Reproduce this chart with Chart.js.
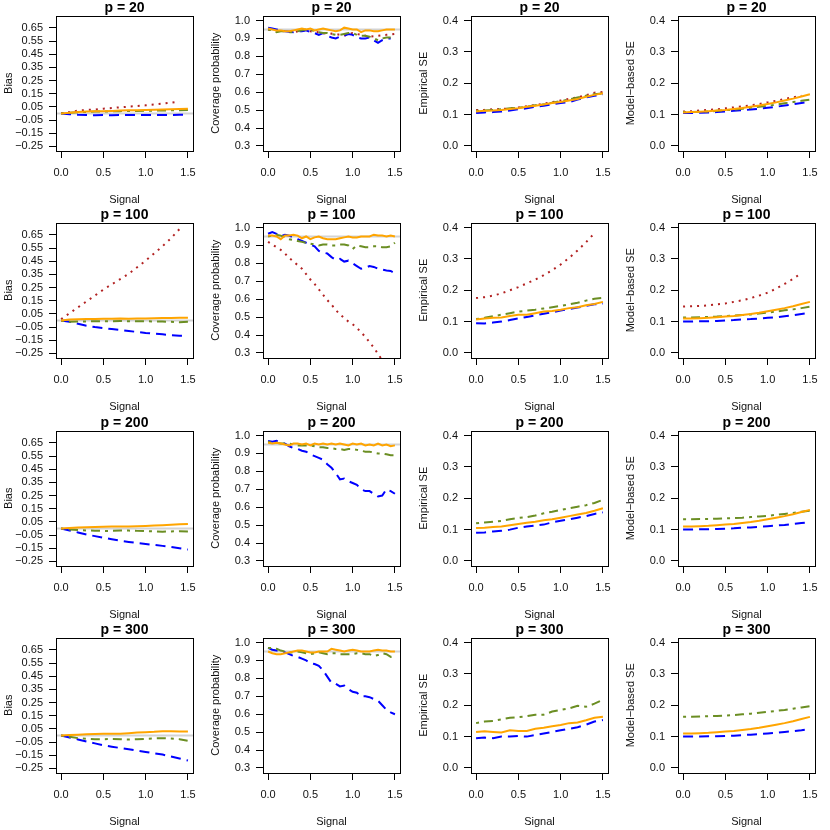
<!DOCTYPE html>
<html>
<head>
<meta charset="utf-8">
<script src="https://cdn.jsdelivr.net/npm/chart.js@4.4.1/dist/chart.umd.min.js"></script>
<style>
  body { margin: 0; background: #fff; }
  #wrap { position: relative; width: 830px; height: 830px; }
  #wrap canvas { position: absolute; }
</style>
</head>
<body>
<div id="wrap"></div>
<script>
// x grids
const signal = [0, 0.1, 0.2, 0.3, 0.4, 0.5, 0.6, 0.7, 0.8, 0.9, 1.0, 1.1, 1.2, 1.3, 1.4, 1.5];
const signalFine = [0, 0.05, 0.1, 0.15, 0.2, 0.25, 0.3, 0.35, 0.4, 0.45, 0.5, 0.55, 0.6, 0.65, 0.7, 0.75,
  0.8, 0.85, 0.9, 0.95, 1.0, 1.05, 1.1, 1.15, 1.2, 1.25, 1.3, 1.35, 1.4, 1.45, 1.5];

// tick labels
const signalTicks = [0, 0.5, 1, 1.5];
const signalTickLabels = ['0.0', '0.5', '1.0', '1.5'];
const biasTicks = [-0.25, -0.15, -0.05, 0.05, 0.15, 0.25, 0.35, 0.45, 0.55, 0.65];
const biasTickLabels = ['\u22120.25', '\u22120.15', '\u22120.05', '0.05', '0.15', '0.25', '0.35', '0.45', '0.55', '0.65'];
const coverTicks = [0.3, 0.4, 0.5, 0.6, 0.7, 0.8, 0.9, 1.0];
const coverTickLabels = ['0.3', '0.4', '0.5', '0.6', '0.7', '0.8', '0.9', '1.0'];
const seTicks = [0, 0.1, 0.2, 0.3, 0.4];
const seTickLabels = ['0.0', '0.1', '0.2', '0.3', '0.4'];

// Bias (grid: signal)
const bias20_red    = [0.003, 0.01, 0.022, 0.027, 0.03, 0.037, 0.042, 0.047, 0.052, 0.057, 0.062, 0.068, 0.075, 0.082, 0.092, null];
const bias20_blue   = [0, -0.005, -0.01, -0.012, -0.013, -0.012, -0.013, -0.012, -0.012, -0.011, -0.011, -0.012, -0.011, -0.011, -0.01, -0.01];
const bias20_green  = [0, 0.005, 0.01, 0.012, 0.015, 0.015, 0.017, 0.018, 0.02, 0.02, 0.021, 0.022, 0.023, 0.024, 0.025, 0.027];
const bias20_orange = [0, 0.005, 0.012, 0.015, 0.017, 0.018, 0.02, 0.022, 0.024, 0.025, 0.027, 0.029, 0.03, 0.032, 0.034, 0.036];

const bias100_red    = [0.01, 0.055, 0.1, 0.145, 0.19, 0.235, 0.275, 0.315, 0.355, 0.405, 0.455, 0.51, 0.565, 0.625, 0.695, null];
const bias100_blue   = [0, -0.01, -0.025, -0.04, -0.05, -0.058, -0.065, -0.072, -0.08, -0.087, -0.095, -0.1, -0.105, -0.112, -0.115, -0.115];
const bias100_green  = [0, -0.01, -0.008, -0.007, -0.006, -0.005, -0.005, -0.004, -0.005, -0.006, -0.006, -0.007, -0.008, -0.01, -0.014, -0.01];
const bias100_orange = [0, 0.008, 0.01, 0.011, 0.012, 0.013, 0.013, 0.015, 0.014, 0.016, 0.016, 0.018, 0.019, 0.02, 0.021, 0.021];

const bias200_blue   = [0, -0.015, -0.03, -0.045, -0.058, -0.07, -0.082, -0.093, -0.102, -0.11, -0.117, -0.125, -0.132, -0.14, -0.15, -0.16];
const bias200_green  = [0, -0.008, -0.012, -0.015, -0.017, -0.018, -0.018, -0.016, -0.016, -0.018, -0.02, -0.022, -0.024, -0.022, -0.02, -0.022];
const bias200_orange = [0, 0.004, 0.008, 0.01, 0.012, 0.014, 0.015, 0.016, 0.015, 0.017, 0.02, 0.022, 0.025, 0.028, 0.032, 0.034];

const bias300_blue   = [0, -0.015, -0.03, -0.045, -0.06, -0.075, -0.085, -0.095, -0.105, -0.115, -0.125, -0.135, -0.145, -0.16, -0.175, -0.19];
const bias300_green  = [0, -0.01, -0.02, -0.025, -0.028, -0.028, -0.027, -0.028, -0.03, -0.028, -0.025, -0.022, -0.02, -0.022, -0.028, -0.04];
const bias300_orange = [0, 0.003, 0.006, 0.009, 0.011, 0.013, 0.014, 0.013, 0.018, 0.022, 0.025, 0.028, 0.033, 0.033, 0.03, 0.03];

// Coverage probability (grid: signalFine)
const cover20_red    = [0.95, 0.948, 0.945, 0.942, 0.94, 0.937, 0.935, 0.94, 0.945, 0.943, 0.94, 0.937, 0.935, 0.93, 0.925, 0.927, 0.925, 0.92, 0.915, 0.925, 0.93, 0.925, 0.92, 0.915, 0.91, 0.912, 0.915, 0.918, 0.92, 0.922, 0.925];
const cover20_blue   = [0.96, 0.955, 0.95, 0.945, 0.94, 0.938, 0.935, 0.94, 0.94, 0.945, 0.935, 0.93, 0.92, 0.93, 0.915, 0.905, 0.9, 0.91, 0.915, 0.925, 0.92, 0.905, 0.9, 0.9, 0.905, 0.89, 0.875, 0.89, 0.9, 0.9, null];
const cover20_green  = [0.95, 0.945, 0.935, 0.94, 0.94, 0.935, 0.935, 0.94, 0.945, 0.95, 0.95, 0.94, 0.935, 0.93, 0.93, 0.925, 0.92, 0.92, 0.925, 0.93, 0.93, 0.92, 0.915, 0.915, 0.91, 0.9, 0.89, 0.9, 0.905, 0.905, null];
const cover20_orange = [0.955, 0.95, 0.945, 0.945, 0.94, 0.94, 0.945, 0.95, 0.955, 0.95, 0.955, 0.945, 0.95, 0.955, 0.95, 0.945, 0.94, 0.945, 0.96, 0.955, 0.95, 0.95, 0.935, 0.945, 0.945, 0.94, 0.94, 0.945, 0.95, 0.95, 0.95];

const cover100_red    = [0.92, 0.905, 0.89, 0.875, 0.855, 0.83, 0.81, 0.79, 0.77, 0.74, 0.71, 0.685, 0.655, 0.625, 0.595, 0.57, 0.54, 0.515, 0.495, 0.475, 0.46, 0.44, 0.415, 0.39, 0.36, 0.33, 0.295, 0.26, 0.22, null, null];
const cover100_blue   = [0.965, 0.975, 0.965, 0.95, 0.96, 0.955, 0.945, 0.935, 0.925, 0.915, 0.905, 0.895, 0.87, 0.86, 0.855, 0.835, 0.82, 0.825, 0.81, 0.815, 0.8, 0.785, 0.77, 0.775, 0.785, 0.78, 0.77, 0.765, 0.76, 0.758, 0.745];
const cover100_green  = [0.95, 0.955, 0.96, 0.955, 0.945, 0.935, 0.93, 0.925, 0.92, 0.915, 0.91, 0.905, 0.9, 0.905, 0.905, 0.9, 0.9, 0.905, 0.905, 0.9, 0.88, 0.9, 0.895, 0.89, 0.89, 0.895, 0.895, 0.89, 0.89, 0.895, 0.915];
const cover100_orange = [0.955, 0.955, 0.95, 0.935, 0.955, 0.955, 0.96, 0.955, 0.94, 0.95, 0.935, 0.945, 0.95, 0.94, 0.935, 0.935, 0.935, 0.94, 0.945, 0.95, 0.945, 0.945, 0.95, 0.95, 0.95, 0.96, 0.955, 0.955, 0.95, 0.955, 0.95];

const cover200_blue   = [0.97, 0.965, 0.97, 0.96, 0.955, 0.94, 0.93, 0.925, 0.915, 0.91, 0.895, 0.885, 0.875, 0.865, 0.84, 0.82, 0.79, 0.755, 0.76, 0.745, 0.735, 0.725, 0.7, 0.69, 0.69, 0.675, 0.66, 0.665, 0.7, 0.69, 0.675];
const cover200_green  = [0.965, 0.96, 0.96, 0.955, 0.955, 0.955, 0.95, 0.945, 0.945, 0.945, 0.945, 0.94, 0.935, 0.935, 0.93, 0.93, 0.925, 0.925, 0.92, 0.925, 0.925, 0.92, 0.915, 0.91, 0.91, 0.905, 0.9, 0.9, 0.895, 0.89, 0.89];
const cover200_orange = [0.96, 0.955, 0.96, 0.955, 0.95, 0.945, 0.955, 0.955, 0.95, 0.955, 0.945, 0.955, 0.95, 0.955, 0.95, 0.955, 0.95, 0.955, 0.95, 0.945, 0.955, 0.95, 0.955, 0.945, 0.95, 0.945, 0.955, 0.945, 0.95, 0.94, 0.945];

const cover300_blue   = [0.97, 0.96, 0.955, 0.95, 0.945, 0.935, 0.925, 0.92, 0.91, 0.9, 0.885, 0.88, 0.87, 0.845, 0.81, 0.775, 0.77, 0.755, 0.76, 0.74, 0.725, 0.72, 0.7, 0.7, 0.695, 0.685, 0.675, 0.65, 0.625, 0.61, 0.6];
const cover300_green  = [0.97, 0.97, 0.965, 0.955, 0.95, 0.945, 0.945, 0.95, 0.945, 0.94, 0.935, 0.94, 0.945, 0.94, 0.935, 0.94, 0.94, 0.935, 0.935, 0.935, 0.935, 0.94, 0.94, 0.935, 0.935, 0.925, 0.93, 0.94, 0.935, 0.92, 0.93];
const cover300_orange = [0.95, 0.94, 0.935, 0.935, 0.94, 0.945, 0.95, 0.955, 0.955, 0.95, 0.945, 0.945, 0.95, 0.95, 0.95, 0.965, 0.96, 0.955, 0.95, 0.955, 0.96, 0.955, 0.95, 0.95, 0.95, 0.955, 0.96, 0.955, 0.955, 0.95, 0.95];

// Empirical SE (grid: signal)
const emp20_red    = [0.115, 0.115, 0.117, 0.118, 0.12, 0.123, 0.127, 0.13, 0.135, 0.14, 0.145, 0.15, 0.155, 0.162, 0.17, 0.172];
const emp20_blue   = [0.105, 0.107, 0.108, 0.11, 0.113, 0.117, 0.12, 0.125, 0.128, 0.133, 0.137, 0.14, 0.148, 0.155, 0.16, 0.165];
const emp20_green  = [0.112, 0.113, 0.115, 0.117, 0.12, 0.122, 0.125, 0.13, 0.133, 0.138, 0.143, 0.148, 0.155, 0.16, 0.165, 0.168];
const emp20_orange = [0.11, 0.112, 0.113, 0.115, 0.118, 0.12, 0.125, 0.128, 0.132, 0.137, 0.14, 0.145, 0.15, 0.157, 0.163, 0.168];

const emp100_red    = [0.175, 0.178, 0.183, 0.19, 0.2, 0.21, 0.222, 0.234, 0.248, 0.264, 0.282, 0.303, 0.327, 0.353, 0.382, null];
const emp100_blue   = [0.095, 0.094, 0.097, 0.1, 0.105, 0.11, 0.115, 0.12, 0.125, 0.13, 0.135, 0.14, 0.145, 0.15, 0.155, 0.158];
const emp100_green  = [0.108, 0.112, 0.117, 0.122, 0.127, 0.132, 0.135, 0.138, 0.142, 0.146, 0.15, 0.155, 0.16, 0.167, 0.173, 0.176];
const emp100_orange = [0.107, 0.11, 0.112, 0.113, 0.118, 0.122, 0.122, 0.127, 0.132, 0.134, 0.138, 0.143, 0.146, 0.152, 0.156, 0.163];

const emp200_blue   = [0.09, 0.091, 0.094, 0.096, 0.1, 0.106, 0.11, 0.113, 0.116, 0.123, 0.128, 0.133, 0.138, 0.143, 0.15, 0.155];
const emp200_green  = [0.12, 0.123, 0.125, 0.128, 0.133, 0.137, 0.14, 0.145, 0.152, 0.157, 0.163, 0.168, 0.173, 0.178, 0.185, 0.195];
const emp200_orange = [0.105, 0.106, 0.108, 0.11, 0.114, 0.118, 0.122, 0.125, 0.13, 0.133, 0.138, 0.143, 0.148, 0.153, 0.16, 0.168];

const emp300_blue   = [0.095, 0.097, 0.095, 0.1, 0.1, 0.102, 0.1, 0.105, 0.11, 0.115, 0.12, 0.125, 0.13, 0.138, 0.148, 0.153];
const emp300_green  = [0.143, 0.148, 0.15, 0.155, 0.16, 0.162, 0.165, 0.17, 0.17, 0.18, 0.185, 0.19, 0.198, 0.195, 0.205, 0.218];
const emp300_orange = [0.115, 0.117, 0.115, 0.113, 0.12, 0.118, 0.118, 0.125, 0.128, 0.133, 0.137, 0.143, 0.145, 0.152, 0.16, 0.163];

// Model-based SE (grid: signal)
const mod20_red    = [0.11, 0.111, 0.113, 0.115, 0.117, 0.12, 0.123, 0.126, 0.13, 0.134, 0.139, 0.144, 0.15, 0.155, 0.16, null];
const mod20_blue   = [0.105, 0.105, 0.106, 0.107, 0.108, 0.11, 0.112, 0.114, 0.116, 0.119, 0.122, 0.125, 0.129, 0.133, 0.137, 0.141];
const mod20_green  = [0.108, 0.108, 0.109, 0.11, 0.112, 0.114, 0.116, 0.119, 0.122, 0.125, 0.128, 0.132, 0.136, 0.14, 0.144, 0.148];
const mod20_orange = [0.107, 0.108, 0.109, 0.111, 0.113, 0.115, 0.118, 0.121, 0.125, 0.129, 0.134, 0.139, 0.145, 0.151, 0.158, 0.165];

const mod100_red    = [0.148, 0.149, 0.15, 0.152, 0.155, 0.158, 0.163, 0.168, 0.175, 0.183, 0.192, 0.205, 0.22, 0.236, 0.255, null];
const mod100_blue   = [0.1, 0.1, 0.101, 0.101, 0.102, 0.104, 0.105, 0.107, 0.108, 0.11, 0.112, 0.114, 0.117, 0.12, 0.124, 0.128];
const mod100_green  = [0.113, 0.113, 0.114, 0.115, 0.116, 0.118, 0.119, 0.121, 0.123, 0.126, 0.129, 0.132, 0.136, 0.139, 0.143, 0.148];
const mod100_orange = [0.11, 0.11, 0.111, 0.112, 0.114, 0.116, 0.118, 0.121, 0.124, 0.128, 0.133, 0.138, 0.143, 0.149, 0.156, 0.163];

const mod200_blue   = [0.1, 0.1, 0.101, 0.101, 0.102, 0.103, 0.104, 0.106, 0.107, 0.109, 0.111, 0.113, 0.115, 0.118, 0.121, 0.124];
const mod200_green  = [0.133, 0.133, 0.134, 0.134, 0.135, 0.136, 0.137, 0.138, 0.14, 0.142, 0.144, 0.147, 0.15, 0.153, 0.157, 0.16];
const mod200_orange = [0.11, 0.11, 0.111, 0.112, 0.114, 0.116, 0.118, 0.121, 0.124, 0.128, 0.133, 0.138, 0.143, 0.149, 0.156, 0.163];

const mod300_blue   = [0.1, 0.1, 0.1, 0.101, 0.101, 0.102, 0.103, 0.105, 0.106, 0.108, 0.11, 0.112, 0.115, 0.117, 0.12, 0.124];
const mod300_green  = [0.163, 0.163, 0.164, 0.165, 0.166, 0.167, 0.169, 0.171, 0.173, 0.176, 0.179, 0.182, 0.185, 0.189, 0.193, 0.197];
const mod300_orange = [0.11, 0.11, 0.111, 0.112, 0.114, 0.116, 0.118, 0.121, 0.124, 0.128, 0.133, 0.138, 0.143, 0.149, 0.156, 0.163];

// rows of the grid: series order is orange, green, blue, red (first drawn on top)
const rows = [
  { p: 20,  bias: [bias20_orange, bias20_green, bias20_blue, bias20_red],
            cover: [cover20_orange, cover20_green, cover20_blue, cover20_red],
            emp: [emp20_orange, emp20_green, emp20_blue, emp20_red],
            mod: [mod20_orange, mod20_green, mod20_blue, mod20_red] },
  { p: 100, bias: [bias100_orange, bias100_green, bias100_blue, bias100_red],
            cover: [cover100_orange, cover100_green, cover100_blue, cover100_red],
            emp: [emp100_orange, emp100_green, emp100_blue, emp100_red],
            mod: [mod100_orange, mod100_green, mod100_blue, mod100_red] },
  { p: 200, bias: [bias200_orange, bias200_green, bias200_blue, null],
            cover: [cover200_orange, cover200_green, cover200_blue, null],
            emp: [emp200_orange, emp200_green, emp200_blue, null],
            mod: [mod200_orange, mod200_green, mod200_blue, null] },
  { p: 300, bias: [bias300_orange, bias300_green, bias300_blue, null],
            cover: [cover300_orange, cover300_green, cover300_blue, null],
            emp: [emp300_orange, emp300_green, emp300_blue, null],
            mod: [mod300_orange, mod300_green, mod300_blue, null] }
];

const metrics = [
  { key: 'bias',  title: 'Bias', min: -0.285, max: 0.745, grid: signal, ticks: biasTicks, labels: biasTickLabels, ref: 0 },
  { key: 'cover', title: 'Coverage probability', min: 0.272, max: 1.028, grid: signalFine, ticks: coverTicks, labels: coverTickLabels, ref: 0.95 },
  { key: 'emp',   title: 'Empirical SE', min: -0.016, max: 0.416, grid: signal, ticks: seTicks, labels: seTickLabels, ref: null },
  { key: 'mod',   title: 'Model\u2212based SE', min: -0.016, max: 0.416, grid: signal, ticks: seTicks, labels: seTickLabels, ref: null }
];

const styles = [
  { color: '#FFA500', dash: [] },
  { color: '#6B8E23', dash: [3, 5, 9, 5] },
  { color: '#0000FF', dash: [10, 6] },
  { color: '#B22222', dash: [2, 5] }
];

const xMin = -0.06, xMax = 1.56;
const FONT = "'Liberation Sans', Arial, Helvetica, sans-serif";

const boxPlugin = {
  id: 'box',
  afterDraw(chart) {
    const { ctx, chartArea: a } = chart;
    ctx.save();
    ctx.strokeStyle = '#000';
    ctx.lineWidth = 1;
    const l = Math.round(a.left) + 0.5, t = Math.round(a.top) + 0.5;
    ctx.strokeRect(l, t, Math.round(a.right) - Math.round(a.left), Math.round(a.bottom) - Math.round(a.top));
    ctx.restore();
  }
};

const wrap = document.getElementById('wrap');

rows.forEach((row, r) => {
  metrics.forEach((m, c) => {
    const canvas = document.createElement('canvas');
    canvas.width = 208;
    canvas.height = 208;
    canvas.style.left = Math.floor(c * 207.5) + 'px';
    canvas.style.top = Math.floor(r * 207.5) + 'px';
    wrap.appendChild(canvas);

    const datasets = [];
    row[m.key].forEach((vals, i) => {
      if (!vals) return;
      datasets.push({
        data: m.grid.map((x, k) => ({ x: x, y: vals[k] })),
        borderColor: styles[i].color,
        borderDash: styles[i].dash,
        borderWidth: 2,
        borderCapStyle: 'butt',
        pointRadius: 0,
        tension: 0,
        fill: false,
        spanGaps: false
      });
    });
    if (m.ref !== null) {
      datasets.push({
        data: [{ x: xMin, y: m.ref }, { x: xMax, y: m.ref }],
        borderColor: '#D3D3D3',
        borderWidth: 2,
        pointRadius: 0,
        fill: false
      });
    }

    new Chart(canvas, {
      type: 'line',
      data: { datasets: datasets },
      plugins: [boxPlugin],
      options: {
        responsive: false,
        animation: false,
        events: [],
        layout: { padding: { top: 0, right: 15, bottom: 0, left: 0 } },
        plugins: {
          legend: { display: false },
          tooltip: { enabled: false },
          title: {
            display: true,
            text: 'p = ' + row.p,
            fullSize: false,
            color: '#000',
            font: { family: FONT, size: 14, weight: 'bold', lineHeight: 1 },
            padding: { top: 1, bottom: 0.5 }
          }
        },
        scales: {
          x: {
            type: 'linear',
            min: xMin,
            max: xMax,
            afterFit: s => { s.height = 57; },
            afterBuildTicks: s => { s.ticks = signalTicks.map(v => ({ value: v })); },
            grid: { drawOnChartArea: false, drawTicks: true, tickLength: 7, color: '#000' },
            border: { display: false },
            ticks: {
              autoSkip: false, maxRotation: 0, padding: 8, color: '#111',
              font: { family: FONT, size: 11 },
              callback: (v, i) => signalTickLabels[i]
            },
            title: {
              display: true, text: 'Signal', color: '#111',
              font: { family: FONT, size: 11 },
              padding: { top: 0, bottom: 1 }
            }
          },
          y: {
            type: 'linear',
            min: m.min,
            max: m.max,
            afterFit: s => { s.width = 56; },
            afterBuildTicks: s => { s.ticks = m.ticks.map(v => ({ value: v })); },
            grid: { drawOnChartArea: false, drawTicks: true, tickLength: 7, color: '#000' },
            border: { display: false },
            ticks: {
              autoSkip: false, padding: 6, color: '#111',
              font: { family: FONT, size: 11 },
              callback: (v, i) => m.labels[i]
            },
            title: {
              display: true, text: m.title, color: '#111',
              font: { family: FONT, size: 11 },
              padding: { top: 2, bottom: 0 }
            }
          }
        }
      }
    });
  });
});
</script>
</body>
</html>
